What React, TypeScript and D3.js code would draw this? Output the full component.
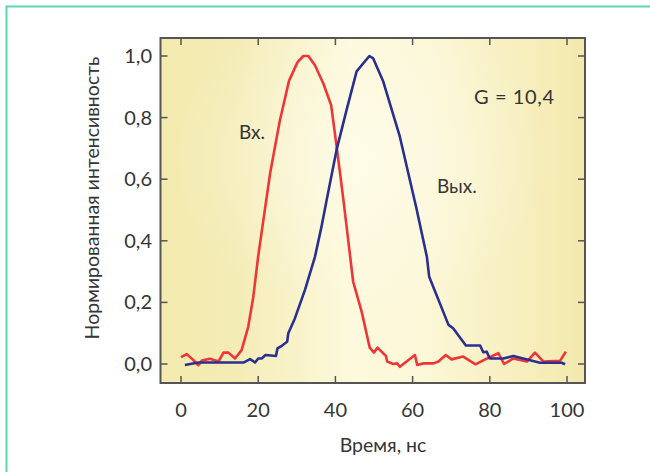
import React from "react";
import * as d3 from "d3";

// Input pulse ("Вх.") — time in ns, normalised intensity
const inputTime = [0, 1.5, 3, 4.5, 5.4, 7.5, 9.7, 11, 12.3, 14, 15.7, 17.4, 18.7, 20, 21.2, 23.1, 25.6, 28, 30.2, 31.7, 33, 34.7, 36.9, 38.9, 40.1, 41.2, 42.2, 44.6, 46.8, 48.9, 50, 50.9, 53.1, 53.4, 55, 56, 56.7, 60.6, 61.2, 62.8, 65.4, 66.7, 68.6, 70.1, 73.1, 76.3, 78.8, 82.2, 83.7, 86.1, 89.6, 91.7, 93.9, 98.2, 99.7];
const inputValue = [0.022, 0.032, 0.015, -0.004, 0.011, 0.017, 0.008, 0.037, 0.037, 0.018, 0.045, 0.12, 0.215, 0.35, 0.455, 0.62, 0.79, 0.92, 0.98, 1.0, 1.0, 0.97, 0.91, 0.84, 0.727, 0.62, 0.52, 0.267, 0.17, 0.053, 0.037, 0.053, 0.026, 0.008, 0.0, 0.002, -0.009, 0.029, -0.003, 0.002, 0.002, 0.008, 0.029, 0.015, 0.024, -0.001, 0.015, 0.035, 0.0, 0.018, 0.008, 0.037, 0.008, 0.01, 0.04];

// Output pulse ("Вых.")
const outputTime = [1, 4.5, 16.3, 17.9, 19.2, 20, 20.9, 21.9, 24.6, 25, 26.2, 27.5, 27.8, 29.5, 32.1, 34.7, 36.4, 37.7, 40.3, 41.6, 42.9, 45.5, 48.8, 49.8, 52.4, 56.7, 61, 63.7, 64.3, 69.3, 70.5, 73.8, 77.5, 78.3, 79.2, 80, 83.5, 86.1, 93, 98.6, 99.5];
const outputValue = [-0.003, 0.005, 0.005, 0.016, 0.005, 0.018, 0.018, 0.029, 0.026, 0.051, 0.06, 0.072, 0.1, 0.148, 0.24, 0.348, 0.446, 0.53, 0.695, 0.76, 0.825, 0.95, 1.0, 0.992, 0.917, 0.738, 0.505, 0.348, 0.283, 0.127, 0.116, 0.06, 0.06, 0.038, 0.04, 0.018, 0.018, 0.026, 0.004, 0.004, -0.001];

const xTicks = [0, 20, 40, 60, 80, 100];
const yTicks = [0, 0.2, 0.4, 0.6, 0.8, 1.0];

const xTitle = "Время, нс";
const yTitle = "Нормированная интенсивность";
const gainLabel = "G = 10,4";
const inputLabel = "Вх.";
const outputLabel = "Вых.";

const W = 650;
const H = 472;
const frame = { left: 160.5, right: 585, top: 38, bottom: 383 };
const FONT = "Lato, 'Open Sans', sans-serif";
const TEXT = "#353535";
const AXIS = "#555555";
const TICK = 7;

export default function App() {
  const x = d3.scaleLinear().domain([0, 100]).range([181, 567]);
  const y = d3.scaleLinear().domain([0, 1]).range([364, 56]);

  const line = d3
    .line<[number, number]>()
    .x((d) => x(d[0]))
    .y((d) => y(d[1]));

  const inputPts = inputTime.map((t, i) => [t, inputValue[i]] as [number, number]);
  const outputPts = outputTime.map((t, i) => [t, outputValue[i]] as [number, number]);

  const fmt = (v: number) => v.toFixed(1).replace(".", ",");

  return (
    <svg
      width={W}
      height={H}
      style={{ position: "absolute", left: 0, top: 0, background: "#ffffff" }}
    >
      <defs>
        <linearGradient id="plotBg" x1="0" x2="1" y1="0" y2="0">
          <stop offset="0" stopColor="#f3eaae" />
          <stop offset="0.18" stopColor="#f4ecb6" />
          <stop offset="0.45" stopColor="#fdf9dd" />
          <stop offset="0.62" stopColor="#fcf7d7" />
          <stop offset="1" stopColor="#f3e9ae" />
        </linearGradient>
        <radialGradient id="plotGlow" cx="0.47" cy="0.35" r="0.45">
          <stop offset="0" stopColor="#fffdf0" stopOpacity="0.55" />
          <stop offset="1" stopColor="#fffdf0" stopOpacity="0" />
        </radialGradient>
        <clipPath id="plotClip">
          <rect
            x={frame.left}
            y={frame.top}
            width={frame.right - frame.left}
            height={frame.bottom - frame.top}
          />
        </clipPath>
      </defs>

      {/* page border */}
      <path d={`M6.5,${H} V6.5 H${W}`} fill="none" stroke="#5fd6ae" strokeWidth={2} />

      {/* plot area */}
      <rect
        x={frame.left}
        y={frame.top}
        width={frame.right - frame.left}
        height={frame.bottom - frame.top}
        fill="url(#plotBg)"
      />
      <rect
        x={frame.left}
        y={frame.top}
        width={frame.right - frame.left}
        height={frame.bottom - frame.top}
        fill="url(#plotGlow)"
      />

      {/* curves */}
      <g clipPath="url(#plotClip)" fill="none" strokeWidth={2.6} strokeLinejoin="round">
        <path d={line(inputPts) ?? ""} stroke="#ee3636" />
        <path d={line(outputPts) ?? ""} stroke="#2a2f92" />
      </g>

      {/* frame */}
      <rect
        x={frame.left}
        y={frame.top}
        width={frame.right - frame.left}
        height={frame.bottom - frame.top}
        fill="none"
        stroke={AXIS}
        strokeWidth={2}
      />

      {/* x ticks (bottom and top, pointing inward) */}
      {xTicks.map((t) => (
        <g key={`xt${t}`} stroke={AXIS} strokeWidth={1.5}>
          <line x1={x(t)} x2={x(t)} y1={frame.bottom} y2={frame.bottom - TICK} />
          <line x1={x(t)} x2={x(t)} y1={frame.top} y2={frame.top + TICK} />
        </g>
      ))}
      {/* y ticks (left and right, pointing inward) */}
      {yTicks.map((v) => (
        <g key={`yt${v}`} stroke={AXIS} strokeWidth={1.5}>
          <line x1={frame.left} x2={frame.left + TICK} y1={y(v)} y2={y(v)} />
          <line x1={frame.right} x2={frame.right - TICK} y1={y(v)} y2={y(v)} />
        </g>
      ))}

      <g fontFamily={FONT} fill={TEXT} fontSize={20}>
        {xTicks.map((t) => (
          <text key={`xl${t}`} x={x(t)} y={417} textAnchor="middle">
            {t}
          </text>
        ))}
        {yTicks.map((v) => (
          <text key={`yl${v}`} x={152} y={y(v) + 7} textAnchor="end">
            {fmt(v)}
          </text>
        ))}
        <text x={383} y={452} textAnchor="middle" fontSize={19.5}>
          {xTitle}
        </text>
        <text
          transform={`translate(99,198) rotate(-90)`}
          textAnchor="middle"
          fontSize={19.5}
        >
          {yTitle}
        </text>
        <text x={474} y={104} fontSize={20} letterSpacing={0.6}>
          {gainLabel}
        </text>
        <text x={239} y={139} fontSize={19}>
          {inputLabel}
        </text>
        <text x={437} y={193} fontSize={19}>
          {outputLabel}
        </text>
      </g>
    </svg>
  );
}
